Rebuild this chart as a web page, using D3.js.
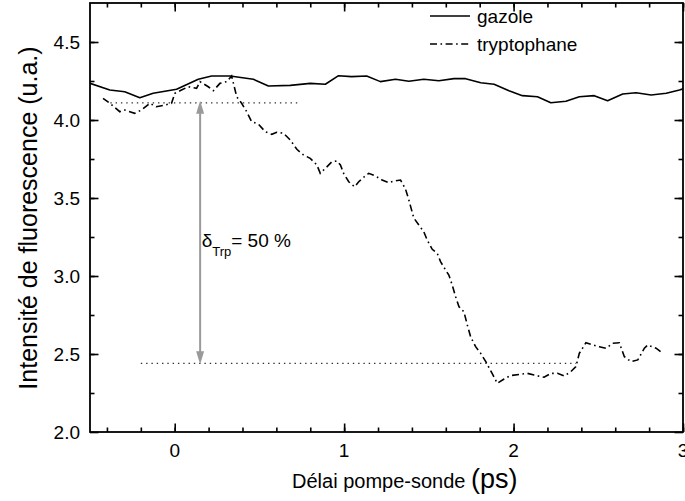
<!DOCTYPE html>
<html><head><meta charset="utf-8">
<script src="https://cdn.jsdelivr.net/npm/d3@7"></script>
<style>body{margin:0;background:#fff}svg{display:block}text{font-family:"Liberation Sans",Arial,sans-serif;fill:#000}</style>
</head><body><div id="chart"></div>
<script>
const gazoleX=[-0.5,-0.383,-0.295,-0.206,-0.127,0.011,0.139,0.218,0.327,0.464,0.553,0.682,0.800,0.889,0.967,1.044,1.133,1.214,1.303,1.382,1.470,1.559,1.648,1.717,1.806,1.885,1.973,2.052,2.141,2.220,2.309,2.388,2.476,2.555,2.644,2.723,2.812,2.901,2.979,3.0];
const gazoleY=[4.235,4.192,4.181,4.143,4.171,4.197,4.261,4.282,4.282,4.261,4.218,4.222,4.235,4.229,4.284,4.278,4.282,4.246,4.261,4.248,4.261,4.252,4.265,4.265,4.239,4.229,4.188,4.156,4.149,4.111,4.120,4.149,4.156,4.124,4.167,4.175,4.160,4.171,4.192,4.20];
const tryptoX=[-0.423,-0.383,-0.324,-0.295,-0.236,-0.196,-0.147,-0.108,-0.058,-0.019,0.001,0.040,0.080,0.129,0.149,0.198,0.228,0.267,0.307,0.336,0.366,0.395,0.425,0.454,0.494,0.534,0.573,0.602,0.642,0.682,0.721,0.760,0.800,0.839,0.859,0.889,0.928,0.957,0.978,0.997,1.027,1.062,1.086,1.115,1.145,1.185,1.224,1.263,1.293,1.333,1.362,1.382,1.411,1.441,1.470,1.490,1.520,1.549,1.569,1.599,1.618,1.638,1.658,1.678,1.707,1.727,1.747,1.776,1.806,1.836,1.875,1.904,1.944,1.983,2.033,2.082,2.121,2.180,2.220,2.259,2.299,2.338,2.368,2.388,2.427,2.466,2.506,2.546,2.585,2.624,2.654,2.693,2.733,2.772,2.792,2.841,2.880];
const tryptoY=[4.139,4.107,4.053,4.064,4.043,4.064,4.107,4.085,4.096,4.107,4.171,4.192,4.213,4.203,4.246,4.213,4.188,4.235,4.246,4.282,4.149,4.107,4.053,3.989,3.974,3.925,3.908,3.921,3.915,3.872,3.812,3.776,3.754,3.712,3.658,3.690,3.733,3.737,3.712,3.658,3.604,3.572,3.604,3.633,3.658,3.641,3.615,3.598,3.609,3.615,3.558,3.487,3.372,3.327,3.284,3.231,3.171,3.146,3.092,3.038,3.006,2.942,2.867,2.803,2.771,2.686,2.609,2.547,2.504,2.451,2.372,2.312,2.340,2.362,2.369,2.376,2.365,2.351,2.376,2.376,2.359,2.387,2.419,2.504,2.572,2.558,2.547,2.537,2.569,2.572,2.483,2.451,2.462,2.537,2.558,2.537,2.504];
const seriesNames=["gazole","tryptophane"];
const xTicks=[0,1,2,3];
const yTicks=[2.0,2.5,3.0,3.5,4.0,4.5];
const refHigh={y:4.11,x0:-0.38,x1:0.74};
const refLow={y:2.44,x0:-0.2,x1:2.37};
const arrowX=[0.15];
const deltaLabel=["δ","Trp","= 50 %"];

const W=685,H=501;
const L=90,R=683,T=3,B=432;
const svg=d3.select("#chart").append("svg").attr("width",W).attr("height",H);
const x=d3.scaleLinear().domain([-0.5,3]).range([L,R]);
const y=d3.scaleLinear().domain([2,4.75]).range([B,T]);

svg.append("clipPath").attr("id","c").append("rect").attr("x",L).attr("y",T).attr("width",R-L).attr("height",B-T);
const g=svg.append("g").attr("clip-path","url(#c)");
const line=d3.line().x(d=>x(d[0])).y(d=>y(d[1]));

[refHigh,refLow].forEach(r=>{
  g.append("line").attr("x1",x(r.x0)).attr("x2",x(r.x1)).attr("y1",y(r.y)).attr("y2",y(r.y))
   .attr("stroke","#333").attr("stroke-width",1.4).attr("stroke-dasharray","1.4,3.9");
});

g.append("path").datum(gazoleX.map((v,i)=>[v,gazoleY[i]])).attr("d",line)
 .attr("fill","none").attr("stroke","#000").attr("stroke-width",1.6).attr("stroke-linejoin","round");
g.append("path").datum(tryptoX.map((v,i)=>[v,tryptoY[i]])).attr("d",line)
 .attr("fill","none").attr("stroke","#000").attr("stroke-width",1.6).attr("stroke-dasharray","7,3.5,1.6,3.5");

const ax=x(arrowX[0]), ay1=y(refHigh.y), ay2=y(refLow.y);
svg.append("line").attr("x1",ax).attr("x2",ax).attr("y1",ay1+10).attr("y2",ay2-10).attr("stroke","#9a9a9a").attr("stroke-width",2);
svg.append("path").attr("d",`M${ax},${ay1-2}L${ax-4},${ay1+11}L${ax+4},${ay1+11}Z`).attr("fill","#9a9a9a");
svg.append("path").attr("d",`M${ax},${ay2+1}L${ax-4},${ay2-12}L${ax+4},${ay2-12}Z`).attr("fill","#9a9a9a");

const dt=svg.append("text").attr("x",ax+1.5).attr("y",247).attr("font-size",19);
dt.append("tspan").text(deltaLabel[0]);
dt.append("tspan").attr("font-size",13).attr("dy",9).text(deltaLabel[1]);
dt.append("tspan").attr("dy",-9).text(deltaLabel[2]);

const xMinor=d3.range(-0.4,3.0001,0.2);
const yMinor=d3.range(2.25,4.75,0.25);
function drawAxis(axisGen,transform){
  svg.append("g").attr("transform",transform).call(axisGen)
   .call(s=>{s.select(".domain").remove();s.selectAll("line").attr("stroke","#000").attr("stroke-width",1.6);});
}
drawAxis(d3.axisBottom(x).tickValues(xMinor).tickSizeInner(-4.5).tickSizeOuter(0).tickFormat(""),`translate(0,${B})`);
drawAxis(d3.axisTop(x).tickValues(xMinor).tickSizeInner(-4.5).tickSizeOuter(0).tickFormat(""),`translate(0,${T})`);
drawAxis(d3.axisLeft(y).tickValues(yMinor).tickSizeInner(-4.5).tickSizeOuter(0).tickFormat(""),`translate(${L},0)`);
drawAxis(d3.axisRight(y).tickValues(yMinor).tickSizeInner(-4.5).tickSizeOuter(0).tickFormat(""),`translate(${R},0)`);
drawAxis(d3.axisBottom(x).tickValues(xTicks).tickSizeInner(-8.5).tickSizeOuter(0).tickFormat(""),`translate(0,${B})`);
drawAxis(d3.axisTop(x).tickValues(xTicks).tickSizeInner(-8.5).tickSizeOuter(0).tickFormat(""),`translate(0,${T})`);
drawAxis(d3.axisLeft(y).tickValues(yTicks).tickSizeInner(-8.5).tickSizeOuter(0).tickFormat(""),`translate(${L},0)`);
drawAxis(d3.axisRight(y).tickValues(yTicks).tickSizeInner(-8.5).tickSizeOuter(0).tickFormat(""),`translate(${R},0)`);

svg.append("rect").attr("x",L).attr("y",T).attr("width",R-L).attr("height",B-T).attr("fill","none").attr("stroke","#000").attr("stroke-width",1.8);

svg.append("g").selectAll("text").data(xTicks).join("text")
 .attr("x",d=>x(d)).attr("y",457).attr("text-anchor","middle").attr("font-size",19).text(d=>d3.format("d")(d));
svg.append("g").selectAll("text").data(yTicks).join("text")
 .attr("x",80).attr("y",d=>y(d)).attr("dy","0.36em").attr("text-anchor","end").attr("font-size",19).text(d=>d3.format(".1f")(d));

const xt=svg.append("text").attr("x",292).attr("y",488).attr("font-size",20);
xt.append("tspan").text("Délai pompe-sonde ");
xt.append("tspan").attr("font-size",27).text("(ps)");
svg.append("text").attr("transform","translate(37,218) rotate(-90)").attr("text-anchor","middle").attr("font-size",25)
 .text("Intensité de fluorescence (u.a.)");

const leg=svg.append("g");
seriesNames.forEach((n,i)=>{
  const ly=16+i*28;
  leg.append("line").attr("x1",430).attr("x2",470).attr("y1",ly).attr("y2",ly).attr("stroke","#000").attr("stroke-width",1.6)
   .attr("stroke-dasharray",i===1?"7,3.5,1.6,3.5":null);
  leg.append("text").attr("x",477).attr("y",ly+7).attr("font-size",19).text(n);
});
</script></body></html>
